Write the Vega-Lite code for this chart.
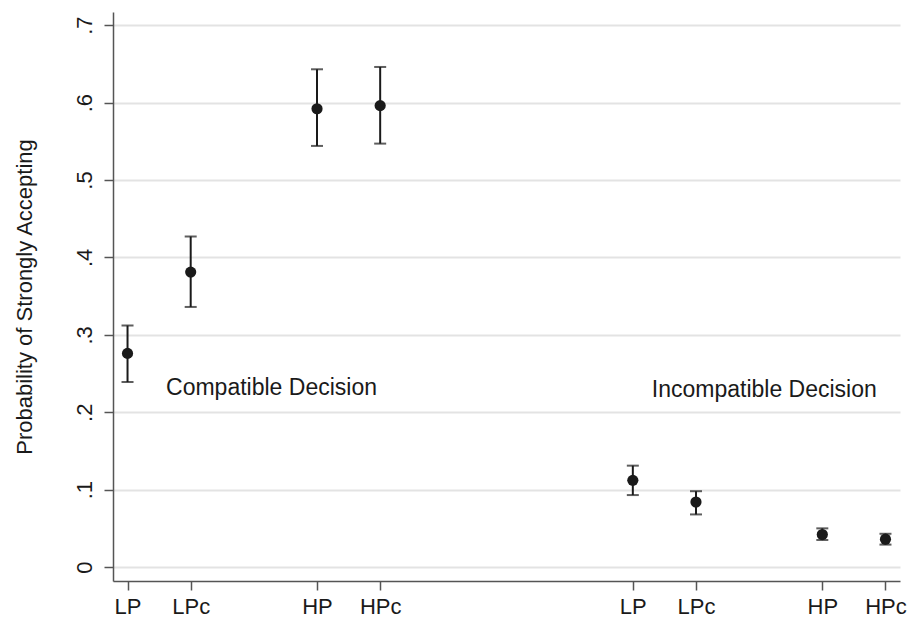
{
  "$schema": "https://vega.github.io/schema/vega-lite/v6.json",
  "width": 787,
  "height": 569,
  "autosize": {"type": "none"},
  "padding": {"left": 113, "top": 12, "right": 8, "bottom": 40},
  "background": "white",
  "config": {
    "view": {"stroke": null},
    "font": "Liberation Sans"
  },
  "datasets": {
    "points": [
      {"pos": 1, "label": "LP", "group": "Compatible", "p": 0.276, "lo": 0.239, "hi": 0.312},
      {"pos": 2, "label": "LPc", "group": "Compatible", "p": 0.381, "lo": 0.336, "hi": 0.427},
      {"pos": 4, "label": "HP", "group": "Compatible", "p": 0.592, "lo": 0.544, "hi": 0.643},
      {"pos": 5, "label": "HPc", "group": "Compatible", "p": 0.596, "lo": 0.547, "hi": 0.646},
      {"pos": 9, "label": "LP", "group": "Incompatible", "p": 0.112, "lo": 0.093, "hi": 0.131},
      {"pos": 10, "label": "LPc", "group": "Incompatible", "p": 0.084, "lo": 0.068, "hi": 0.098},
      {"pos": 12, "label": "HP", "group": "Incompatible", "p": 0.042, "lo": 0.035, "hi": 0.050},
      {"pos": 13, "label": "HPc", "group": "Incompatible", "p": 0.036, "lo": 0.029, "hi": 0.043}
    ],
    "notes": [
      {"x": 1.61, "y": 0.231, "text": "Compatible Decision"},
      {"x": 9.3, "y": 0.229, "text": "Incompatible Decision"}
    ]
  },
  "layer": [
    {
      "data": {"name": "points"},
      "mark": {"type": "rule", "color": "#1a1a1a", "strokeWidth": 2},
      "encoding": {
        "x": {
          "field": "pos", "type": "quantitative",
          "scale": {"domain": [0.77, 13.23], "nice": false, "zero": false},
          "axis": {
            "values": [1, 2, 4, 5, 9, 10, 12, 13],
            "labelExpr": "(datum.value == 1 || datum.value == 9) ? 'LP' : (datum.value == 2 || datum.value == 10) ? 'LPc' : (datum.value == 4 || datum.value == 12) ? 'HP' : 'HPc'",
            "title": null,
            "grid": false,
            "domainColor": "#555555",
            "domainWidth": 1.5,
            "tickColor": "#555555",
            "tickWidth": 1.5,
            "tickSize": 9,
            "labelFontSize": 22,
            "labelColor": "#1a1a1a",
            "labelPadding": 6,
            "labelFlush": false
          }
        },
        "y": {
          "field": "lo", "type": "quantitative",
          "scale": {"domain": [-0.018, 0.717], "nice": false, "zero": false},
          "axis": {
            "values": [0, 0.1, 0.2, 0.3, 0.4, 0.5, 0.6, 0.7],
            "labelExpr": "datum.value == 0 ? '0' : replace(format(datum.value, '.1f'), '0.', '.')",
            "title": "Probability of Strongly Accepting",
            "titleFontSize": 22,
            "titleFontWeight": "normal",
            "titleColor": "#1a1a1a",
            "titlePadding": 37,
            "grid": true,
            "gridColor": "#e3e3e3",
            "gridWidth": 2,
            "domainColor": "#555555",
            "domainWidth": 1.5,
            "tickColor": "#555555",
            "tickWidth": 1.5,
            "tickSize": 9,
            "labelAngle": -90,
            "labelAlign": "center",
            "labelBaseline": "bottom",
            "labelFontSize": 22,
            "labelColor": "#1a1a1a",
            "labelPadding": 8
          }
        },
        "y2": {"field": "hi"}
      }
    },
    {
      "data": {"name": "points"},
      "mark": {"type": "tick", "orient": "horizontal", "color": "#1a1a1a", "size": 12, "thickness": 2},
      "encoding": {
        "x": {"field": "pos", "type": "quantitative"},
        "y": {"field": "lo", "type": "quantitative"}
      }
    },
    {
      "data": {"name": "points"},
      "mark": {"type": "tick", "orient": "horizontal", "color": "#1a1a1a", "size": 12, "thickness": 2},
      "encoding": {
        "x": {"field": "pos", "type": "quantitative"},
        "y": {"field": "hi", "type": "quantitative"}
      }
    },
    {
      "data": {"name": "points"},
      "mark": {"type": "point", "filled": true, "color": "#1a1a1a", "opacity": 1, "size": 125},
      "encoding": {
        "x": {"field": "pos", "type": "quantitative"},
        "y": {"field": "p", "type": "quantitative"}
      }
    },
    {
      "data": {"name": "notes"},
      "mark": {"type": "text", "align": "left", "baseline": "middle", "fontSize": 23, "color": "#1a1a1a"},
      "encoding": {
        "x": {"field": "x", "type": "quantitative"},
        "y": {"field": "y", "type": "quantitative"},
        "text": {"field": "text"}
      }
    }
  ]
}
